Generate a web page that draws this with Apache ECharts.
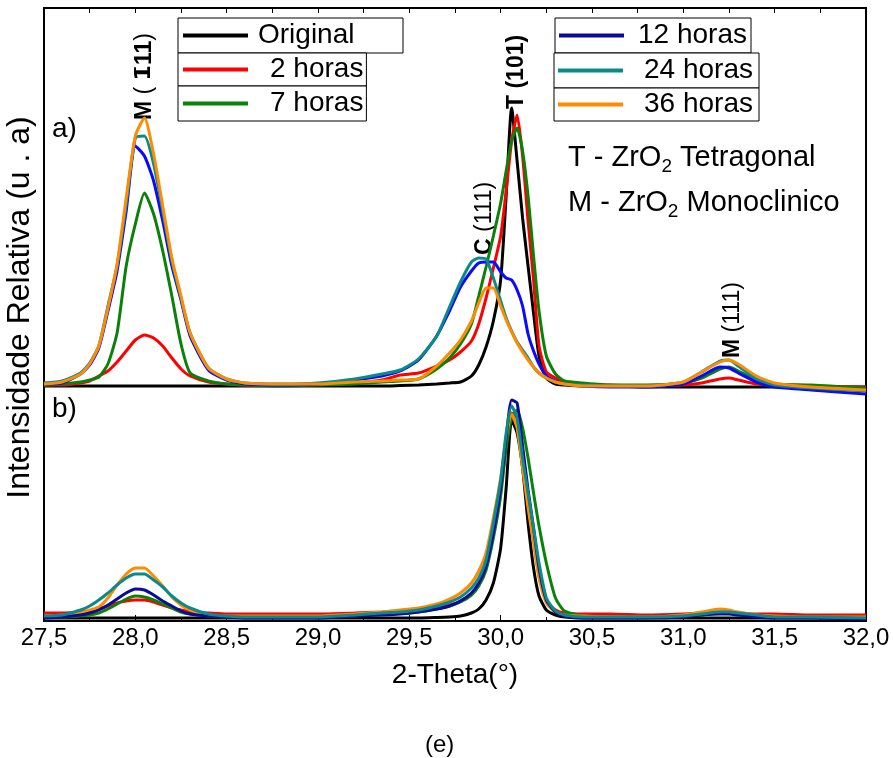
<!DOCTYPE html>
<html>
<head>
<meta charset="utf-8">
<script src="https://cdn.jsdelivr.net/npm/echarts@6/dist/echarts.min.js"></script>
<style>
html,body{margin:0;padding:0;background:#fff;}
#chart{width:893px;height:758px;}
</style>
</head>
<body>
<div id="chart"></div>
<script>
// 2-Theta sample positions (degrees)
const theta = [27.50,27.60,27.70,27.75,27.80,27.85,27.90,27.95,28.00,28.05,28.10,28.15,28.20,28.25,28.30,28.40,28.50,28.60,28.80,29.00,29.20,29.35,29.45,29.55,29.65,29.72,29.78,29.84,29.88,29.92,29.96,30.00,30.03,30.06,30.09,30.12,30.15,30.18,30.21,30.25,30.30,30.35,30.45,30.60,30.80,31.00,31.10,31.20,31.25,31.30,31.40,31.50,31.70,32.00];

// Panel a) intensities (relative to panel baseline)
const origA = [0,0,0,0,0,0,0,0,0,0,0,0,0,0,0,0,0,0,0,0,0,0,0.5,1,2,3,4,10,21,39,65,106,190,278,225,168,120,73,30,8,2,1,0,0,-1,-1,-1,-1,-1,-1,-1,-1,-1,-1];
const h2A   = [1,1,3,5,10,15,24,35,46,51,48,40,28,17,10,4,2,1,1,2,3,6,11,13,20,26,34,45,62,88,118,150,195,245,271,230,165,106,40,14,8,4,2,1,0,1,3,7,8,6,2,1,0,-1];
const h7A   = [1,2,4,6,9,22,53,120,162,193,172,135,90,42,13,5,2,1,0,1,2,4,5,7,17,28,42,62,90,119,150,183,215,245,258,235,190,130,75,30,12,5,3,1,1,3,8,17,19,15,6,2,1,-2];
const h12A  = [2,3,12,21,38,75,115,175,240,230,205,165,120,86,50,16,6,2,1,2,6,10,15,26,50,75,99,115,123,124,124,114,108,106,96,80,52,35,22,10,5,2,0,-1,-1,2,10,19,18,13,4,-1,-4,-8];
const h24A  = [3,5,13,23,40,80,120,182,248,250,222,175,125,88,53,18,7,3,2,3,7,12,16,27,50,79,104,124,128,127,108,85,68,55,44,36,28,19,13,8,4,2,1,0,0,4,14,25,26,20,7,1,-2,-5];
const h36A  = [2,4,12,22,40,78,122,188,250,268,232,180,128,90,53,18,7,3,2,2,4,5,6,7,20,33,46,65,83,98,98,80,66,54,43,34,26,19,13,8,4,2,0,0,0,4,14,24,26,22,10,3,-1,-4];

// Panel b) intensities (relative to panel baseline)
const origB = [0,0,0,0,0,0,0,0,0,0,0,0,0,0,0,0,0,0,0,0,0,0,0,0,0.5,1,2,5,9,18,35,70,130,198,185,150,95,50,22,8,3,1,0,0,0,0,0,0,0,0,0,0,0,0];
const h2B   = [5,5,6,7,9,12,15,17,18,18,16,13,10,8,6,5,4,4,4,4,5,6,7,8,10,13,17,24,33,50,85,128,175,205,200,160,118,80,42,17,8,5,4,4,3,4,5,6,6,5,4,4,3,3];
const h7B   = [1,1,2,3,5,9,14,19,22,21,18,14,10,6,4,2,1,1,1,1,2,4,5,6,9,12,16,23,32,48,80,122,170,200,208,190,160,125,92,55,20,7,2,1,1,2,3,5,5,4,2,1,1,1];
const h12B  = [0,1,3,5,8,13,19,25,29,28,23,17,12,7,4,2,1,0,0,0,2,3,4,6,9,12,17,25,35,52,85,130,180,218,215,172,128,90,50,18,6,2,0,0,0,1,3,4,4,3,1,0,0,-1];
const h24B  = [2,3,8,12,18,25,33,40,44,44,38,31,22,15,10,4,2,1,1,1,3,5,6,8,12,16,21,30,40,58,95,138,185,212,200,160,125,90,55,20,7,3,1,1,1,2,4,6,6,5,3,1,1,0];
const h36B  = [2,3,5,8,11,20,33,44,50,50,42,32,21,13,8,3,2,2,2,2,4,6,8,10,14,19,25,35,47,65,100,140,180,204,190,150,110,75,40,15,6,3,2,1,1,3,6,9,8,6,3,2,1,1];

const offsetA = 235;
const offsetB = 3;

const names = ['Original','2 horas','7 horas','12 horas','24 horas','36 horas'];
const xTicks = [27.5,28.0,28.5,29.0,29.5,30.0,30.5,31.0,31.5,32.0];

// peak labels: [rich text, theta, intensity]
const peakLabels = [
  {t:'{b|M} ( {o|1\u0304}{b|11})', x:28.05, y:501},
  {t:'{b|T} {b|(101)}', x:30.09, y:512},
  {t:'{b|C} (111)', x:29.91, y:366},
  {t:'{b|M} (111)', x:31.27, y:263}
];

const colA = {'Original':'#000000','2 horas':'#ff0000','7 horas':'#0a820a','12 horas':'#0a0aff','24 horas':'#0a8a8a','36 horas':'#ff8c00'};
const colB = {'Original':'#000000','2 horas':'#ff0000','7 horas':'#0a820a','12 horas':'#0a0a9c','24 horas':'#0a8a8a','36 horas':'#ff8c00'};
const legendCol = {'Original':'#000000','2 horas':'#ff0000','7 horas':'#0a820a','12 horas':'#0a0a9c','24 horas':'#0a8a8a','36 horas':'#ff8c00'};

function mk(name, arr, off, color, z){
  return {
    type:'line', name:name,
    data: theta.map((t,i)=>[t, arr[i]+off]),
    symbol:'none', showSymbol:false, smooth:0.2,
    lineStyle:{width:3, color:color}, itemStyle:{color:color},
    z:z, silent:true, animation:false, xAxisIndex:0, yAxisIndex:0
  };
}

const series = [
  mk('Original', origA, offsetA, colA['Original'], 2),
  mk('2 horas', h2A, offsetA, colA['2 horas'], 3),
  mk('7 horas', h7A, offsetA, colA['7 horas'], 4),
  mk('12 horas', h12A, offsetA, colA['12 horas'], 5),
  mk('24 horas', h24A, offsetA, colA['24 horas'], 6),
  mk('36 horas', h36A, offsetA, colA['36 horas'], 7),
  mk('Original', origB, offsetB, colB['Original'], 2),
  mk('2 horas', h2B, offsetB, colB['2 horas'], 3),
  mk('7 horas', h7B, offsetB, colB['7 horas'], 4),
  mk('36 horas', h36B, offsetB, colB['36 horas'], 5),
  mk('12 horas', h12B, offsetB, colB['12 horas'], 6),
  mk('24 horas', h24B, offsetB, colB['24 horas'], 7)
];

const FONT = '"Liberation Sans", Arial, sans-serif';
function lg(name, left, top, padL, textPadL, textW, padV){
  return {
    data:[{name:name, itemStyle:{color:legendCol[name]}}],
    left:left, top:top, orient:'vertical', selectedMode:false,
    icon:'rect', itemWidth:65, itemHeight:4,
    borderColor:'#000', borderWidth:1, borderRadius:0, backgroundColor:'#fff',
    padding:[padV, 3, padV, padL],
    textStyle:{fontSize:28, fontFamily:FONT, color:'#000', width:textW, padding:[0,0,0,textPadL], lineHeight:29, overflow:'none'}
  };
}

const chart = echarts.init(document.getElementById('chart'), null, {renderer:'canvas'});
const option = {
  animation:false,
  backgroundColor:'#fff',
  grid:{left:44, right:27, top:8, bottom:137, show:true, borderColor:'#000', borderWidth:2, backgroundColor:'transparent', outerBoundsMode:'none'},
  legend:[
    lg('Original', 178, 18, 5, 5, 142, 3),
    lg('2 horas', 178, 53, 5, 17, 93, 2),
    lg('7 horas', 178, 86, 5, 17, 93, 3),
    lg('12 horas', 555, 18, 4, 9, 110, 3),
    lg('24 horas', 554, 53, 4, 16, 112, 3),
    lg('36 horas', 554, 88, 4, 16, 112, 2)
  ],
  xAxis:[
    {type:'value', position:'bottom', min:27.5, max:32.0, interval:0.5,
     name:'2-Theta(°)', nameLocation:'middle', nameGap:40,
     nameTextStyle:{fontSize:28, fontFamily:FONT, color:'#000'},
     axisLine:{show:true, lineStyle:{color:'#000', width:2}},
     axisTick:{show:true, inside:true, length:6, lineStyle:{color:'#000', width:1}},
     minorTick:{show:true, splitNumber:2, length:4, lineStyle:{color:'#000', width:1}},
     axisLabel:{show:true, fontSize:24, fontFamily:FONT, color:'#000', margin:5,
       showMinLabel:true, showMaxLabel:true, hideOverlap:false,
       formatter:function(v){ const t = xTicks.find(k=>Math.abs(k-v)<1e-6); return t===undefined?'':t.toFixed(1).replace('.', ','); }},
     splitLine:{show:false}},
    {type:'value', position:'top', min:27.5, max:32.0, interval:0.5,
     axisLine:{show:true, lineStyle:{color:'#000', width:2}},
     axisTick:{show:true, inside:true, length:5, lineStyle:{color:'#000', width:1}},
     minorTick:{show:true, splitNumber:2, length:5, lineStyle:{color:'#000', width:1}},
     axisLabel:{show:false}, splitLine:{show:false}}
  ],
  yAxis:[
    {type:'value', min:0, max:613,
     name:'Intensidade Relativa (u . a)', nameLocation:'middle', nameGap:8,
     nameTextStyle:{fontSize:32, fontFamily:FONT, color:'#000', padding:[0,0,0,14]},
     axisLine:{show:true, lineStyle:{color:'#000', width:2}},
     axisTick:{show:false}, axisLabel:{show:false}, splitLine:{show:false}}
  ],
  series:series,
  graphic:[
    {type:'text', left:52, top:115, style:{text:'a)', fontSize:28, fontFamily:FONT, fill:'#000'}},
    {type:'text', left:52, top:395, style:{text:'b)', fontSize:28, fontFamily:FONT, fill:'#000'}},
    {type:'text', left:568, top:143, style:{text:'T - ZrO{s|2} Tetragonal', fontSize:29, fontFamily:FONT, fill:'#000',
       rich:{s:{fontSize:19, fontFamily:FONT, fill:'#000', padding:[18,0,0,0]}}}},
    {type:'text', left:568, top:188, style:{text:'M - ZrO{s|2} Monoclinico', fontSize:29, fontFamily:FONT, fill:'#000',
       rich:{s:{fontSize:19, fontFamily:FONT, fill:'#000', padding:[18,0,0,0]}}}},
    {type:'text', left:425, top:733, style:{text:'(e)', fontSize:24, fontFamily:FONT, fill:'#000'}}
  ]
};
chart.setOption(option);

// rotated peak labels anchored in data coordinates
const extra = peakLabels.map((p,i)=>{
  const pt = chart.convertToPixel({xAxisIndex:0, yAxisIndex:0}, [p.x, p.y]);
  return {type:'text', id:'pk'+i, x:pt[0], y:pt[1], rotation:Math.PI/2,
    style:{text:p.t, fontSize:23, fontFamily:FONT, fill:'#000', align:'left', verticalAlign:'middle',
      rich:{b:{fontSize:23, fontWeight:'bold', fontFamily:FONT, fill:'#000'},
            o:{fontSize:22, fontWeight:'bold', fontFamily:'"DejaVu Sans", sans-serif', fill:'#000'}}}};
});
chart.setOption({graphic: option.graphic.concat(extra)});
</script>
</body>
</html>
